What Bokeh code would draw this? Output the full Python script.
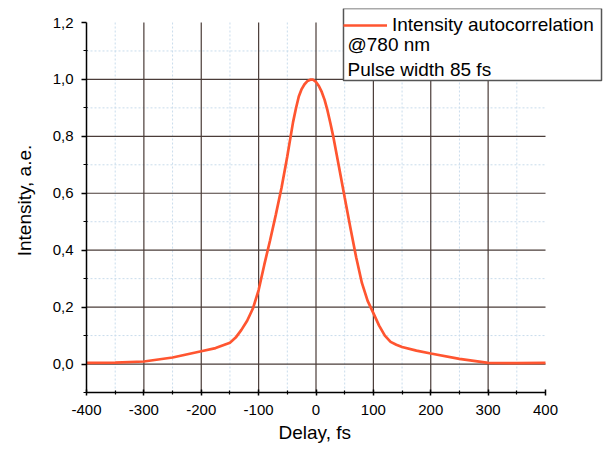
from bokeh.plotting import figure
from bokeh.models import Range1d, FixedTicker, Legend, LegendItem, Label, CustomJSTickFormatter, Title
from bokeh.embed import file_html
from bokeh.resources import INLINE

# ---- data ----
delay_fs = [-400, -350, -300, -250, -200, -175, -150, -140, -130, -120, -110, -100,
            -90, -80, -70, -60, -50, -40, -35, -30, -25, -20, -15, -10, -5, 0, 5, 10, 15, 20, 25, 30, 40, 50,
            60, 70, 80, 90, 100, 110, 120, 130, 140, 150, 175, 200, 250, 300, 350, 400]
intensity = [0.004, 0.005, 0.009, 0.023, 0.045, 0.056, 0.075, 0.093, 0.120, 0.152, 0.195, 0.260,
             0.350, 0.435, 0.525, 0.620, 0.730, 0.850, 0.898, 0.940, 0.966, 0.983, 0.994, 0.999, 0.999, 0.991, 0.977, 0.956, 0.928, 0.891, 0.847, 0.800, 0.693, 0.585,
             0.478, 0.375, 0.285, 0.222, 0.179, 0.135, 0.100, 0.078, 0.068, 0.060, 0.047, 0.037, 0.018, 0.004, 0.003, 0.004]

x_ticks = [-400, -300, -200, -100, 0, 100, 200, 300, 400]
x_tick_labels = ["-400", "-300", "-200", "-100", "0", "100", "200", "300", "400"]
x_minor = [-350, -250, -150, -50, 50, 150, 250, 350]
x_grid = [-300, -200, -100, 0, 100, 200, 300]

y_ticks = [0.0, 0.2, 0.4, 0.6, 0.8, 1.0, 1.2]
y_tick_labels = ["0,0", "0,2", "0,4", "0,6", "0,8", "1,0", "1,2"]
y_minor = [-0.1, 0.1, 0.3, 0.5, 0.7, 0.9, 1.1]
y_grid = [0.0, 0.2, 0.4, 0.6, 0.8, 1.0]

x_axis_range = (-400, 400)
y_axis_range = (-0.1, 1.2)

legend_label = "Intensity autocorrelation"
legend_notes = ["@780 nm", "Pulse width 85 fs"]
x_label = "Delay, fs"
y_label = "Intensity, a.e."

FONT = "Liberation Sans"
LINE_COLOR = "#ff5530"
GRID_COLOR = "#4a3c38"
MINOR_GRID_COLOR = "#c9dcec"

# The plotting area is extended to the right and top so that the legend box,
# which in the original sticks out of the axes, is not clipped.
# Axes and grid are bounded to the real data window.
p = figure(width=614, height=452, output_backend="svg", toolbar_location=None,
           x_range=Range1d(-400, 506.3), y_range=Range1d(-0.1, 1.2492),
           min_border_left=86, min_border_right=8, min_border_top=8, min_border_bottom=60)
p.outline_line_color = None
p.background_fill_color = "white"
p.border_fill_color = "white"
p.xgrid.visible = False
p.ygrid.visible = False

fmt_code = """
const i = tick_vals.findIndex(t => Math.abs(t - tick) < 1e-9);
return i >= 0 ? tick_text[i] : '';
"""
p.xaxis.ticker = FixedTicker(ticks=x_ticks, minor_ticks=x_minor)
p.xaxis.formatter = CustomJSTickFormatter(args=dict(tick_vals=x_ticks, tick_text=x_tick_labels), code=fmt_code)
p.yaxis.ticker = FixedTicker(ticks=y_ticks, minor_ticks=y_minor)
p.yaxis.formatter = CustomJSTickFormatter(args=dict(tick_vals=y_ticks, tick_text=y_tick_labels), code=fmt_code)
p.xaxis.bounds = x_axis_range
p.yaxis.bounds = y_axis_range

for ax in (p.xaxis, p.yaxis):
    ax.axis_line_color = "black"
    ax.axis_line_width = 1.5
    ax.major_tick_line_color = "black"
    ax.major_tick_line_width = 1.5
    ax.minor_tick_line_color = "black"
    ax.minor_tick_line_width = 1.2
    ax.major_label_text_font = FONT
    ax.major_label_text_font_size = "15px"
    ax.major_label_text_color = "black"
    ax.axis_label_text_font = FONT
    ax.axis_label_text_font_size = "19px"
    ax.axis_label_text_font_style = "normal"
    ax.axis_label_text_color = "black"

p.xaxis.major_tick_out = 3
p.xaxis.major_tick_in = 3
p.xaxis.minor_tick_out = 2
p.xaxis.minor_tick_in = 2
p.xaxis.major_label_standoff = 9

p.yaxis.axis_label = y_label
p.yaxis.major_tick_out = 5
p.yaxis.major_tick_in = 0
p.yaxis.minor_tick_out = 3
p.yaxis.minor_tick_in = 1
p.yaxis.major_label_standoff = 8
p.yaxis.axis_label_standoff = 15

# x-axis title, placed under the bounded axis (not the extended frame)
x_title = Title(text=x_label, align="left", offset=192, vertical_align="top", standoff=8,
                text_font=FONT, text_font_size="19px", text_font_style="normal", text_color="black")
p.add_layout(x_title, "below")

# grid lines, bounded to the axes window
minor_x = [v for v in x_minor if x_axis_range[0] < v < x_axis_range[1]]
minor_y = [v for v in y_minor if y_axis_range[0] < v < y_axis_range[1]]
p.segment(x0=minor_x, y0=[y_axis_range[0]] * len(minor_x), x1=minor_x, y1=[y_axis_range[1]] * len(minor_x),
          line_color=MINOR_GRID_COLOR, line_dash="2 2", line_width=1)
p.segment(x0=[x_axis_range[0]] * len(minor_y), y0=minor_y, x1=[x_axis_range[1]] * len(minor_y), y1=minor_y,
          line_color=MINOR_GRID_COLOR, line_dash="2 2", line_width=1)
p.segment(x0=x_grid, y0=[y_axis_range[0]] * len(x_grid), x1=x_grid, y1=[y_axis_range[1]] * len(x_grid),
          line_color=GRID_COLOR, line_width=1.2)
p.segment(x0=[x_axis_range[0]] * len(y_grid), y0=y_grid, x1=[x_axis_range[1]] * len(y_grid), y1=y_grid,
          line_color=GRID_COLOR, line_width=1.2)

line_r = p.line(delay_fs, intensity, line_color=LINE_COLOR, line_width=2.7)

# legend box (background + frame) and the two note lines
p.quad(left=[47.9], right=[497.6], bottom=[0.9962], top=[1.2492],
       fill_color="white", line_color="#555555", line_width=1.5)

legend = Legend(items=[LegendItem(label=legend_label, renderers=[line_r])],
                location=(257, 356),
                label_text_font=FONT, label_text_font_size="19px", label_text_color="black",
                label_height=22, glyph_height=22, glyph_width=44, label_standoff=5,
                spacing=0, padding=3, margin=0,
                border_line_color=None, background_fill_alpha=0.0)
p.add_layout(legend)

note_x = 54.9
note_y = [1.121, 1.0366]
for txt, ny in zip(legend_notes, note_y):
    p.add_layout(Label(x=note_x, y=ny, text=txt, text_font=FONT, text_font_size="19px",
                       text_color="black", text_align="left", text_baseline="middle"))

open("out.html", "w").write(file_html(p, INLINE))
